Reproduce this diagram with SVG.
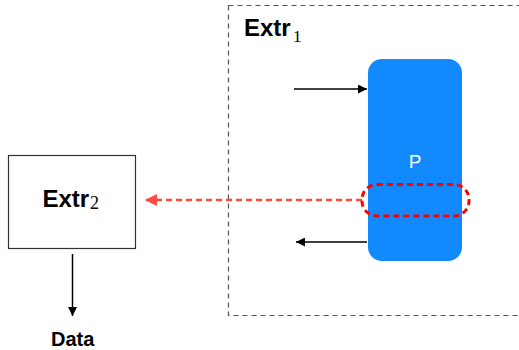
<svg xmlns="http://www.w3.org/2000/svg" width="519" height="350" viewBox="0 0 519 350">
<defs>
<style>
.lbl{font-family:"Liberation Sans",Arial,sans-serif;font-weight:bold;fill:#000}
.sub{font-family:"Liberation Serif","Times New Roman",serif;fill:#000}
.blk{stroke:#000;stroke-width:1.5;fill:none}
</style>
<marker id="ah" viewBox="0 0 10 10" refX="10" refY="5" markerWidth="9" markerHeight="9" markerUnits="userSpaceOnUse" orient="auto">
<path d="M0,0 L10,5 L0,10 z" fill="#000"/>
</marker>
<marker id="ahr" viewBox="0 0 10 10" refX="10" refY="5" markerWidth="12" markerHeight="12" markerUnits="userSpaceOnUse" orient="auto">
<path d="M0,0 L10,5 L0,10 z" fill="#FF4A3D"/>
</marker>
</defs>
<rect width="519" height="350" fill="#fff"/>
<g id="extr1">
<rect x="228.5" y="5.5" width="300" height="310" fill="none" stroke="#555" stroke-width="1.2" stroke-dasharray="5 4"/>
<text class="lbl" x="244" y="36" font-size="24">Extr</text>
<text class="sub" x="293" y="42" font-size="17">1</text>
</g>
<g id="P">
<rect x="368" y="59" width="94" height="202" rx="14" fill="#1289FE"/>
<text x="415" y="168" font-family="'Liberation Sans',Arial,sans-serif" font-size="19" fill="#fff" text-anchor="middle">P</text>
</g>
<g id="extr2">
<rect x="8.5" y="155.5" width="127" height="93" fill="#fff" stroke="#333" stroke-width="1.2"/>
<text class="lbl" x="42.5" y="207" font-size="24">Extr</text>
<text class="sub" x="90" y="208.5" font-size="18">2</text>
</g>
<g id="data">
<text class="lbl" x="72.7" y="346" font-size="20" text-anchor="middle">Data</text>
</g>
<g id="connectors">
<line class="blk" x1="294" y1="89" x2="367" y2="89" marker-end="url(#ah)"/>
<line class="blk" x1="367" y1="242" x2="296" y2="242" marker-end="url(#ah)"/>
<line class="blk" x1="72.5" y1="254" x2="72.5" y2="316" marker-end="url(#ah)"/>
<line x1="362" y1="200" x2="145" y2="200" stroke="#FF4A3D" stroke-width="2.5" stroke-dasharray="6 4" marker-end="url(#ahr)"/>
<rect x="362" y="184.5" width="107" height="31.5" rx="15" fill="none" stroke="#FF0000" stroke-width="3" stroke-dasharray="6 4"/>
</g>
</svg>
